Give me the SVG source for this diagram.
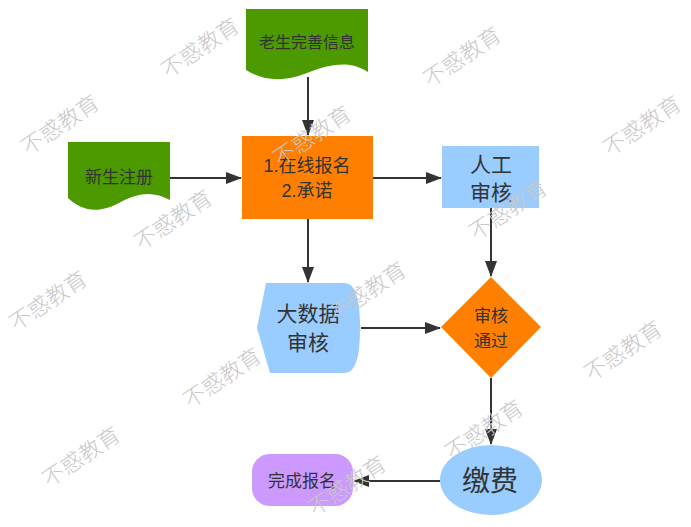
<svg xmlns="http://www.w3.org/2000/svg" width="691" height="527" viewBox="0 0 691 527">
<style>
text{font-family:"Liberation Sans","Noto Sans CJK SC",sans-serif;fill:#333;text-anchor:middle;dominant-baseline:central}
.c{stroke:#333;stroke-width:2;fill:none}
.wm{fill:#c8c8c8;font-size:22px;font-family:"Noto Sans CJK SC",sans-serif;font-weight:300}
</style>
<defs>
<marker id="a" markerWidth="16" markerHeight="12" refX="15" refY="6" orient="auto" markerUnits="userSpaceOnUse">
<path d="M0,0 L16,6 L0,12 Z" fill="#333"/>
</marker>
</defs>
<rect width="691" height="527" fill="#fff"/>
<g id="connectors">
<path class="c" d="M308,77 V135" marker-end="url(#a)"/>
<path class="c" d="M170,178 H241" marker-end="url(#a)"/>
<path class="c" d="M373,178 H441" marker-end="url(#a)"/>
<path class="c" d="M308,219 V282" marker-end="url(#a)"/>
<path class="c" d="M491,208 V276" marker-end="url(#a)"/>
<path class="c" d="M361,328 H440" marker-end="url(#a)"/>
<path class="c" d="M491,378 V444" marker-end="url(#a)"/>
<path class="c" d="M440,481 H354" marker-end="url(#a)"/>
</g>
<g id="n1">
<path d="M246,9 H368 V72 C352,62 335,62 307,73 C282,83 262,80 246,70 Z" fill="#4c9900"/>
<text x="307" y="42" font-size="16">老生完善信息</text>
</g>
<g id="n2">
<path d="M68,142 H170 V200 C155,192 140,191 119,203 C98,214 82,211 68,198 Z" fill="#4c9900"/>
<text x="119" y="177" font-size="17">新生注册</text>
</g>
<g id="n3">
<rect x="242" y="136" width="131" height="83" fill="#ff8000"/>
<text x="307" y="166" font-size="18">1.在线报名</text>
<text x="307" y="191" font-size="18">2.承诺</text>
</g>
<g id="n4">
<rect x="442" y="146" width="97" height="62" fill="#99ccff"/>
<text x="491" y="164" font-size="21">人工</text>
<text x="491" y="192" font-size="21">审核</text>
</g>
<g id="n5">
<path d="M266,283 H344 C356,283 360,300 360,328 C360,356 356,373 344,373 H270 L257,328 Z" fill="#99ccff"/>
<text x="308" y="313" font-size="21">大数据</text>
<text x="308" y="342" font-size="21">审核</text>
</g>
<g id="n6">
<path d="M491,277 L541,327 L491,378 L441,327 Z" fill="#ff8000"/>
<text x="491" y="316" font-size="17">审核</text>
<text x="491" y="341" font-size="17">通过</text>
</g>
<g id="n7">
<ellipse cx="491" cy="480" rx="51" ry="35" fill="#99ccff"/>
<text x="490" y="481" font-size="28">缴费</text>
</g>
<g id="n8">
<rect x="252" y="454" width="101" height="52" rx="18" fill="#cc99ff"/>
<text x="302" y="481" font-size="17">完成报名</text>
</g>
<g id="watermarks" class="wm">
<text class="wm" transform="translate(199,46) rotate(-34)">不惑教育</text>
<text class="wm" transform="translate(461,55) rotate(-34)">不惑教育</text>
<text class="wm" transform="translate(59,123) rotate(-34)">不惑教育</text>
<text class="wm" transform="translate(641,124) rotate(-34)">不惑教育</text>
<text class="wm" transform="translate(311,134) rotate(-34)">不惑教育</text>
<text class="wm" transform="translate(172,218) rotate(-34)">不惑教育</text>
<text class="wm" transform="translate(507,208) rotate(-34)">不惑教育</text>
<text class="wm" transform="translate(47,299) rotate(-34)">不惑教育</text>
<text class="wm" transform="translate(366,290) rotate(-34)">不惑教育</text>
<text class="wm" transform="translate(221,376) rotate(-34)">不惑教育</text>
<text class="wm" transform="translate(622,349) rotate(-34)">不惑教育</text>
<text class="wm" transform="translate(80,455) rotate(-34)">不惑教育</text>
<text class="wm" transform="translate(483,428) rotate(-34)">不惑教育</text>
<text class="wm" transform="translate(346,484) rotate(-34)">不惑教育</text>
</g>
</svg>
